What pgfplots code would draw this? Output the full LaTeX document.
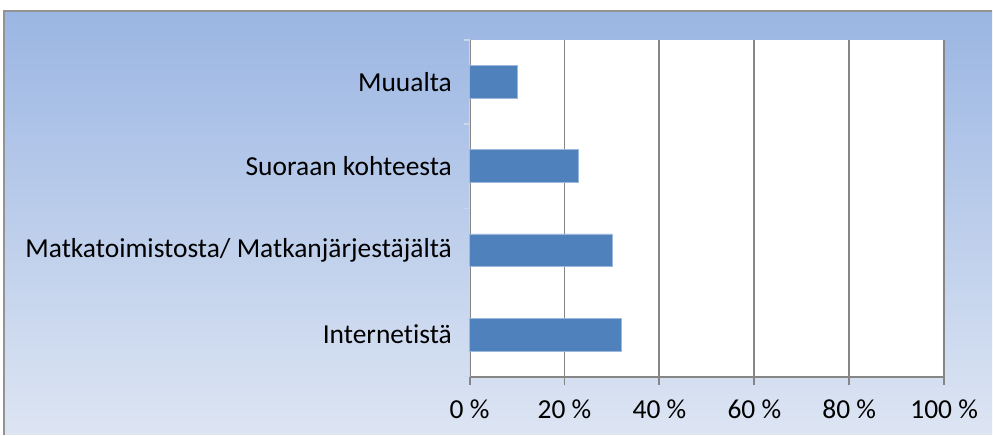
\documentclass[border=0pt]{standalone}
\usepackage{fontspec}
\setmainfont{Carlito}[Ligatures=NoCommon]
\usepackage{pgfplots}
\pgfplotsset{compat=1.18}
\definecolor{bgtop}{HTML}{9BB6E3}
\definecolor{bgbot}{HTML}{DDE5F3}
\definecolor{barc}{HTML}{4F81BD}
\definecolor{baredge}{HTML}{9DB8DD}
\definecolor{gridc}{HTML}{868686}
\definecolor{yaxc}{HTML}{C9D7EE}
\begin{document}
\begin{tikzpicture}
\fill[white] (0,0) rectangle (744.75pt,326.25pt);
\shade[top color=bgtop,bottom color=bgbot] (3pt,0pt) rectangle (744.75pt,318pt);
\draw[color=gray!85, line width=1.3pt] (3pt,0pt) -- (3pt,318pt) -- (744.75pt,318pt);
\begin{axis}[
  at={(352.5pt,43.5pt)}, anchor=south west,
  scale only axis, width=356.25pt, height=252.75pt,
  xmin=0, xmax=100, ymin=-0.5, ymax=3.5,
  xbar, bar width=24.75pt,
  axis background/.style={fill=white},
  axis x line*=bottom, axis y line*=left,
  x axis line style={gridc, line width=1.4pt},
  y axis line style={yaxc, line width=1.1pt},
  xtick={0,20,40,60,80,100},
  xticklabels={0 \%,20 \%,40 \%,60 \%,80 \%,100 \%},
  ytick={0,1,2,3},
  yticklabels={Internetistä, Matkatoimistosta/ Matkanjärjestäjältä, Suoraan kohteesta, Muualta},
  tick align=outside,
  x tick style={gridc, line width=1.4pt},
  xtick style={/pgfplots/major tick length=6pt},
  ytick style={draw=none},
  extra y ticks={-0.5,0.5,1.5,2.5,3.5},
  extra y tick labels={},
  extra y tick style={ytick style={draw=yaxc, line width=1pt, /pgfplots/major tick length=4.5pt}, grid=none},
  xmajorgrids,
  major x grid style={gridc, line width=1.4pt},
  ticklabel style={font=\fontsize{20.6pt}{23pt}\selectfont, text=black},
  yticklabel style={xshift=-5.5pt},
  xticklabel style={yshift=-9.5pt},
  clip=false,
]
\addplot[fill=barc, draw=baredge, line width=0.6pt] coordinates {(32,0) (30,1) (23,2) (10,3)};
\end{axis}
\end{tikzpicture}
\end{document}
